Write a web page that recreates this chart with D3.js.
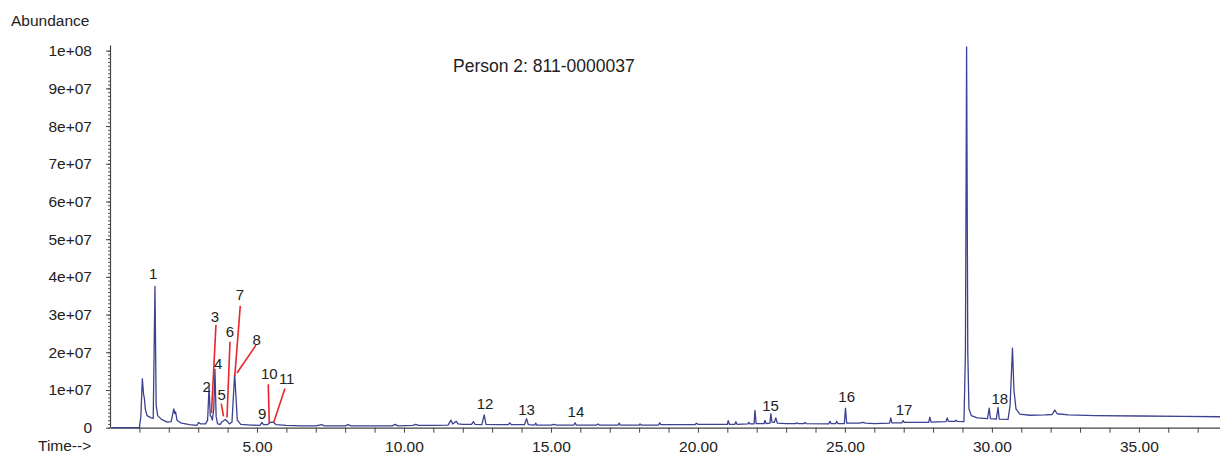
<!DOCTYPE html>
<html>
<head>
<meta charset="utf-8">
<script src="https://cdn.jsdelivr.net/npm/d3@7"></script>
<style>
  body { margin: 0; background: #fff; }
  svg text { font-family: "Liberation Sans", Arial, sans-serif; fill: #222; }
</style>
</head>
<body>
<div class="chart"></div>
<script>
// chromatogram trace: [time (min), abundance]
var trace = [
  [0.05, 0], [1.00, 0], [1.05, 3e6], [1.10, 13e6], [1.14, 9e6], [1.17, 7.8e6], [1.20, 5e6],
  [1.26, 3.2e6], [1.40, 2.6e6], [1.47, 2.5e6], [1.53, 37.5e6], [1.57, 6e6], [1.62, 3.2e6],
  [1.75, 2.2e6], [1.95, 1.5e6], [2.08, 1.6e6], [2.17, 5.0e6], [2.20, 3.8e6], [2.23, 4.2e6],
  [2.28, 2e6], [2.40, 1.3e6], [2.70, 0.8e6], [2.95, 0.6e6], [3.02, 1.4e6], [3.08, 1.0e6],
  [3.25, 1.0e6], [3.32, 2e6], [3.37, 10.8e6], [3.41, 3.2e6], [3.44, 3.0e6], [3.48, 2e6],
  [3.53, 5e6], [3.57, 15.5e6], [3.61, 3e6], [3.66, 1e6], [3.75, 0.9e6], [3.80, 1.5e6],
  [3.85, 1.8e6], [3.92, 2.2e6], [3.98, 1.8e6], [4.06, 1e6], [4.15, 1.5e6], [4.24, 14.2e6],
  [4.28, 9e6], [4.33, 2e6], [4.45, 0.9e6], [4.80, 0.7e6], [5.10, 0.6e6], [5.17, 1.4e6],
  [5.22, 0.8e6], [5.35, 0.8e6], [5.45, 1.4e6], [5.55, 1.5e6], [5.65, 0.8e6], [6.0, 0.6e6],
  [6.5, 0.5e6], [7.0, 0.5e6], [7.2, 0.8e6], [7.3, 0.5e6], [8.0, 0.5e6], [8.1, 0.8e6],
  [8.2, 0.5e6], [9.0, 0.5e6], [9.6, 0.5e6], [9.7, 0.9e6], [9.8, 0.5e6], [10.3, 0.6e6],
  [10.4, 0.9e6], [10.5, 0.6e6], [11.0, 0.6e6], [11.5, 0.7e6], [11.60, 2.0e6], [11.66, 1.0e6],
  [11.78, 1.7e6], [11.84, 1.0e6], [12.0, 0.9e6], [12.30, 0.9e6], [12.36, 1.6e6], [12.42, 0.9e6],
  [12.65, 0.8e6], [12.73, 3.4e6], [12.79, 0.9e6], [13.2, 0.8e6], [13.55, 0.8e6], [13.6, 1.3e6],
  [13.65, 0.8e6], [14.1, 0.8e6], [14.17, 2.4e6], [14.23, 0.8e6], [14.45, 0.7e6], [14.48, 1.2e6],
  [14.52, 0.7e6], [15.0, 0.7e6], [15.1, 0.9e6], [15.2, 0.7e6], [15.78, 0.7e6], [15.82, 1.3e6],
  [15.86, 0.7e6], [16.55, 0.7e6], [16.6, 1.0e6], [16.65, 0.7e6], [17.28, 0.7e6], [17.32, 1.2e6],
  [17.36, 0.7e6], [18.0, 0.7e6], [18.03, 1.0e6], [18.07, 0.7e6], [18.66, 0.7e6], [18.7, 1.3e6],
  [18.74, 0.8e6], [19.5, 0.8e6], [19.9, 0.8e6], [19.95, 1.2e6], [20.0, 0.9e6], [20.5, 0.9e6],
  [21.0, 0.9e6], [21.03, 1.9e6], [21.07, 0.9e6], [21.26, 0.9e6], [21.29, 1.6e6], [21.33, 0.9e6],
  [21.7, 1.0e6], [21.73, 1.4e6], [21.77, 1.0e6], [21.91, 1.0e6], [21.94, 4.6e6], [21.98, 1.1e6],
  [22.25, 1.1e6], [22.28, 1.9e6], [22.32, 1.1e6], [22.45, 1.2e6], [22.48, 3.7e6], [22.52, 1.5e6],
  [22.60, 1.4e6], [22.65, 2.6e6], [22.70, 1.2e6], [23.0, 1.1e6], [23.33, 1.1e6], [23.36, 1.3e6],
  [23.40, 1.1e6], [23.6, 1.1e6], [23.64, 1.4e6], [23.68, 1.1e6], [24.45, 1.0e6], [24.49, 1.7e6],
  [24.53, 1.1e6], [24.69, 1.1e6], [24.72, 1.7e6], [24.76, 1.1e6], [24.98, 1.1e6], [25.02, 5.2e6],
  [25.06, 1.2e6], [25.5, 1.2e6], [25.6, 1.4e6], [25.7, 1.2e6], [26.0, 1.1e6], [26.52, 1.2e6],
  [26.56, 2.6e6], [26.60, 1.3e6], [26.94, 1.3e6], [26.98, 1.9e6], [27.02, 1.4e6], [27.5, 1.4e6],
  [27.85, 1.4e6], [27.89, 2.8e6], [27.93, 1.5e6], [28.44, 1.6e6], [28.48, 2.6e6], [28.52, 1.7e6],
  [28.74, 1.7e6], [28.78, 2.0e6], [28.82, 1.7e6], [29.05, 1.6e6], [29.10, 20e6], [29.14, 101e6],
  [29.18, 20e6], [29.22, 5e6], [29.30, 3.2e6], [29.5, 2.6e6], [29.85, 2.4e6], [29.91, 5.2e6],
  [29.95, 2.4e6], [30.15, 2.3e6], [30.21, 5.4e6], [30.25, 2.3e6], [30.55, 2.2e6], [30.62, 6e6],
  [30.70, 21.1e6], [30.75, 10e6], [30.82, 5e6], [30.95, 3.6e6], [31.3, 3.3e6], [31.8, 3.4e6],
  [32.05, 3.5e6], [32.14, 4.7e6], [32.22, 3.7e6], [32.6, 3.4e6], [33.5, 3.2e6], [35, 3.1e6],
  [36.5, 3.0e6], [37.76, 2.9e6]
];

// peak numbers: [label, time, abundance]
var peakLabels = [
  ["1", 1.47, 41.0e6], ["2", 3.29, 10.9e6], ["3", 3.57, 29.5e6], ["4", 3.68, 17.1e6],
  ["5", 3.80, 8.7e6], ["6", 4.08, 25.5e6], ["7", 4.42, 35.2e6], ["8", 4.99, 23.3e6],
  ["9", 5.18, 3.8e6], ["10", 5.42, 14.4e6], ["11", 6.01, 13.1e6], ["12", 12.76, 6.5e6],
  ["13", 14.17, 4.7e6], ["14", 15.85, 4.25e6], ["15", 22.47, 5.8e6], ["16", 25.06, 8.2e6],
  ["17", 27.01, 4.7e6], ["18", 30.27, 7.8e6]
];

// red leader lines: [t1, v1, t2, v2]
var leaders = [
  [3.605, 27.3e6, 3.452, 3.9e6],
  [3.786, 6.4e6, 3.861, 3.0e6],
  [4.082, 22.8e6, 3.980, 2.7e6],
  [4.432, 32.3e6, 4.245, 13.7e6],
  [4.966, 21.9e6, 4.320, 14.5e6],
  [5.384, 11.5e6, 5.418, 1.25e6],
  [5.952, 10.4e6, 5.561, 1.25e6]
];

var yTicks = [0, 1e7, 2e7, 3e7, 4e7, 5e7, 6e7, 7e7, 8e7, 9e7, 1e8];
var yTickLabels = ["0", "1e+07", "2e+07", "3e+07", "4e+07", "5e+07", "6e+07", "7e+07", "8e+07", "9e+07", "1e+08"];
var xMajorTicks = [5, 10, 15, 20, 25, 30, 35];
var xMinorTicks = d3.range(1, 38);
var yMinorTicks = d3.range(0, 101).map(function (d) { return d * 1e6; });
var title = "Person 2: 811-0000037";

var width = 1220;
var height = 455;

var x = d3.scaleLinear().domain([0, 37.76]).range([110, 1220]);
var y = d3.scaleLinear().domain([0, 1.015e8]).range([427.7, 45]);

var svg = d3.select('.chart')
  .append('svg')
  .attr('width', width)
  .attr('height', height);

// y axis: minor then major
svg.append('g')
  .attr('transform', 'translate(' + x(0) + ',0)')
  .call(d3.axisLeft(y).tickValues(yMinorTicks).tickSize(2).tickFormat(''))
  .call(function (g) { g.select('.domain').remove(); })
  .selectAll('line').attr('stroke', '#555');

var yAxis = svg.append('g')
  .attr('transform', 'translate(' + x(0) + ',0)')
  .call(d3.axisLeft(y).tickValues(yTicks).tickSize(4).tickSizeOuter(0).tickPadding(14)
    .tickFormat(function (d, i) { return yTickLabels[i]; }));
yAxis.select('.domain').attr('stroke', '#444').attr('stroke-width', 1.2);
yAxis.selectAll('line').attr('stroke', '#444');
yAxis.selectAll('text').attr('font-size', '15.5px').attr('fill', '#222')
  .style('font-family', '"Liberation Sans", Arial, sans-serif');

// x axis
var xAxis = svg.append('g')
  .attr('transform', 'translate(0,' + y(0) + ')')
  .call(d3.axisBottom(x).tickValues(xMinorTicks).tickSize(5).tickSizeOuter(0).tickPadding(8)
    .tickFormat(function (d) { return xMajorTicks.indexOf(d) >= 0 ? d.toFixed(2) : ''; }));
xAxis.select('.domain').attr('stroke', '#444').attr('stroke-width', 1.2);
xAxis.selectAll('line').attr('stroke', '#444');
xAxis.selectAll('text').attr('font-size', '15.5px').attr('fill', '#222')
  .style('font-family', '"Liberation Sans", Arial, sans-serif');

// axis titles
svg.append('text')
  .attr('x', 11).attr('y', 26)
  .attr('font-size', '15.5px')
  .text('Abundance');

svg.append('text')
  .attr('x', 38).attr('y', 451)
  .attr('font-size', '15.5px')
  .text('Time-->');

svg.append('text')
  .attr('x', 453).attr('y', 72)
  .attr('font-size', '17.5px')
  .text(title);

// trace
var line = d3.line()
  .x(function (d) { return x(d[0]); })
  .y(function (d) { return y(d[1]); });

svg.append('path')
  .datum(trace)
  .attr('d', line)
  .attr('fill', 'none')
  .attr('stroke', '#3d418f')
  .attr('stroke-width', 1.3)
  .attr('stroke-linejoin', 'round');

// leader lines
svg.selectAll('.leader')
  .data(leaders)
  .enter()
  .append('line')
  .attr('class', 'leader')
  .attr('x1', function (d) { return x(d[0]); })
  .attr('y1', function (d) { return y(d[1]); })
  .attr('x2', function (d) { return x(d[2]); })
  .attr('y2', function (d) { return y(d[3]); })
  .attr('stroke', '#e8262b')
  .attr('stroke-width', 1.6);

// peak numbers
svg.selectAll('.peak')
  .data(peakLabels)
  .enter()
  .append('text')
  .attr('class', 'peak')
  .attr('x', function (d) { return x(d[1]); })
  .attr('y', function (d) { return y(d[2]); })
  .attr('dy', '0.36em')
  .attr('text-anchor', 'middle')
  .attr('font-size', '15px')
  .text(function (d) { return d[0]; });
</script>
</body>
</html>
